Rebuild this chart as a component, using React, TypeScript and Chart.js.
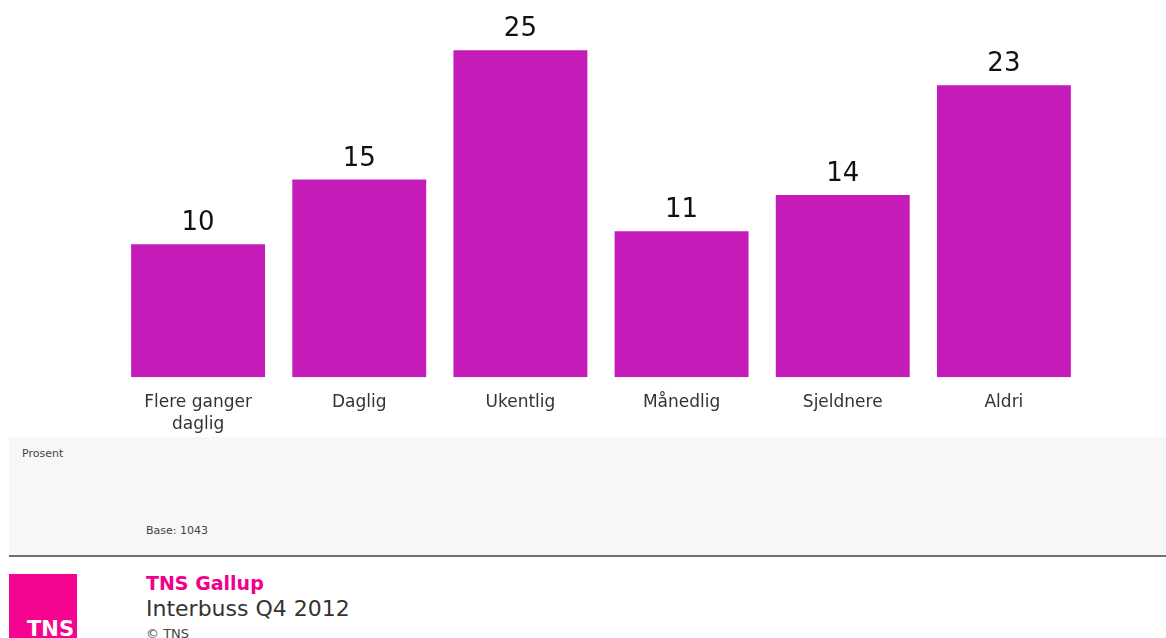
import React, { useEffect, useRef } from "react";
import { Chart, registerables } from "chart.js";

Chart.register(...registerables);

const categories: (string | string[])[] = [
  ["Flere ganger", "daglig"],
  "Daglig",
  "Ukentlig",
  "Månedlig",
  "Sjeldnere",
  "Aldri",
];
const values: number[] = [10.3, 15.3, 25.3, 11.3, 14.1, 22.6];

const FONT = "'DejaVu Sans', Verdana, sans-serif";

const valueLabels = {
  id: "valueLabels",
  afterDatasetsDraw(chart: any) {
    const ctx = chart.ctx;
    const meta = chart.getDatasetMeta(0);
    ctx.save();
    ctx.fillStyle = "#111";
    ctx.font = `26px ${FONT}`;
    ctx.textAlign = "center";
    ctx.textBaseline = "alphabetic";
    meta.data.forEach((el: any, i: number) => {
      const v = chart.data.datasets[0].data[i] as number;
      ctx.fillText(String(Math.round(v)), el.x, el.y - 14);
    });
    ctx.restore();
  },
};

export default function App() {
  const ref = useRef<HTMLCanvasElement | null>(null);
  useEffect(() => {
    if (!ref.current) return;
    const chart = new Chart(ref.current, {
      type: "bar",
      data: {
        labels: categories,
        datasets: [
          {
            data: values,
            backgroundColor: "#C41BB9",
            borderWidth: 0,
            categoryPercentage: 1,
            barPercentage: 0.831,
          },
        ],
      },
      options: {
        animation: false,
        responsive: false,
        devicePixelRatio: 1,
        layout: { padding: { left: 117.5, right: 81.5, top: 2.5, bottom: 2.2 } },
        plugins: { legend: { display: false }, tooltip: { enabled: false } },
        scales: {
          y: { display: false, min: 0, max: 29 },
          x: {
            grid: { display: false, drawTicks: false },
            border: { display: false },
            ticks: {
              padding: 15,
              color: "#333",
              font: { family: FONT, size: 17, lineHeight: 1.25 },
              maxRotation: 0,
              autoSkip: false,
            },
          },
        },
      },
      plugins: [valueLabels],
    });
    return () => chart.destroy();
  }, []);

  return (
    <div style={{ position: "absolute", left: 0, top: 0, width: 1166, height: 638, overflow: "hidden", fontFamily: FONT, background: "#fff" }}>
      <canvas ref={ref} width={1166} height={452} style={{ position: "absolute", left: 0, top: 0, width: 1166, height: 452 }} />
      <div style={{ position: "absolute", left: 9, top: 437, width: 1157, height: 118, background: "#F7F7F7" }} />
      <div style={{ position: "absolute", left: 22, top: 447, fontSize: 11, color: "#444", lineHeight: "14px" }}>Prosent</div>
      <div style={{ position: "absolute", left: 146, top: 524, fontSize: 11, color: "#444", lineHeight: "14px" }}>Base: 1043</div>
      <div style={{ position: "absolute", left: 9, top: 555, width: 1157, height: 2, background: "#707070" }} />
      <div style={{ position: "absolute", left: 9, top: 574, width: 68, height: 80, background: "#F5058F" }}>
        <div style={{ position: "absolute", left: 18, top: 42, color: "#fff", fontWeight: "bold", fontSize: 21, lineHeight: "26px" }}>TNS</div>
      </div>
      <div style={{ position: "absolute", left: 146, top: 571, fontSize: 19, fontWeight: "bold", color: "#F0008C", lineHeight: "24px" }}>TNS Gallup</div>
      <div style={{ position: "absolute", left: 146, top: 596, fontSize: 22, color: "#333", lineHeight: "26px" }}>Interbuss Q4 2012</div>
      <div style={{ position: "absolute", left: 146, top: 626, fontSize: 13, color: "#444", lineHeight: "16px" }}>© TNS</div>
    </div>
  );
}
